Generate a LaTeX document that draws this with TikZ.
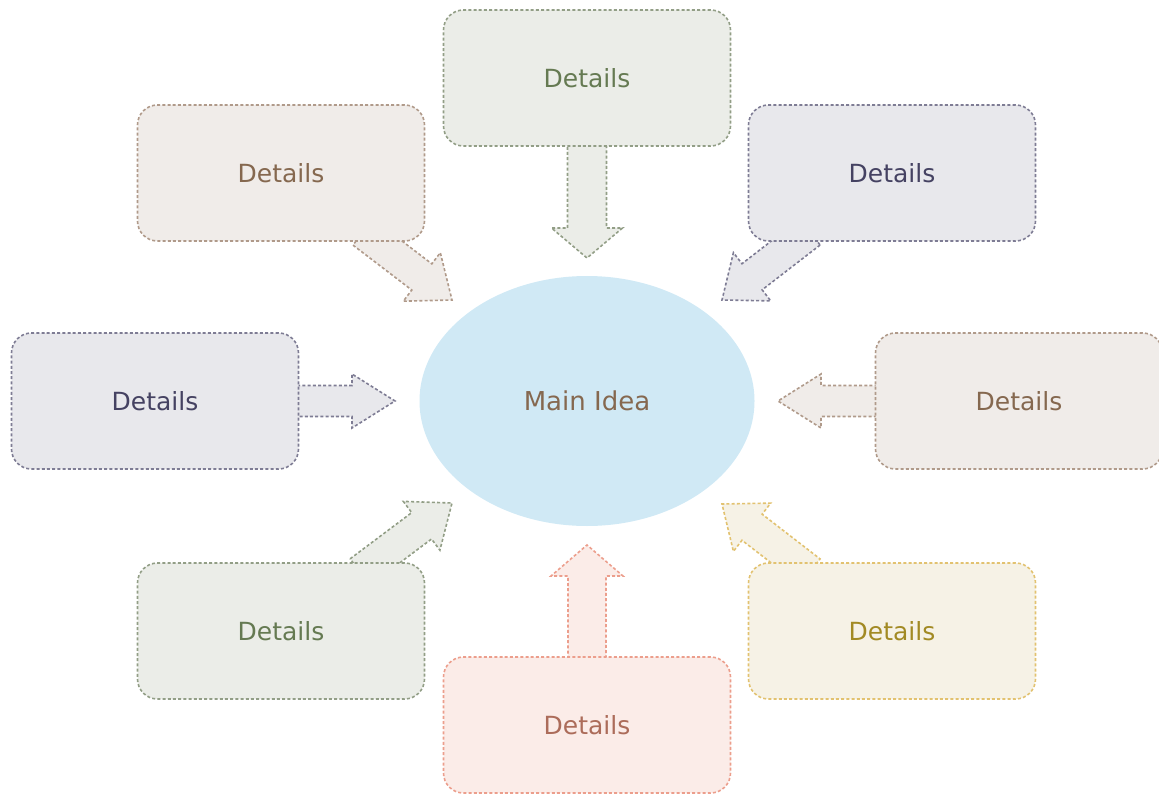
\documentclass[tikz,border=0pt]{standalone}
\usepackage{fontspec}
\setmainfont{DejaVu Sans}
\usetikzlibrary{calc,shapes.geometric}
\definecolor{gfill}{HTML}{EBEDE8}\definecolor{gline}{HTML}{929E86}\definecolor{gtext}{HTML}{657A52}
\definecolor{bfill}{HTML}{F0ECE9}\definecolor{bline}{HTML}{B09A8A}\definecolor{btext}{HTML}{85684F}
\definecolor{lfill}{HTML}{E8E8EC}\definecolor{lline}{HTML}{7E7C94}\definecolor{ltext}{HTML}{454262}
\definecolor{pfill}{HTML}{FBECE8}\definecolor{pline}{HTML}{EC9E8C}\definecolor{ptext}{HTML}{AC6C5A}
\definecolor{yfill}{HTML}{F6F2E6}\definecolor{yline}{HTML}{E2C270}\definecolor{ytext}{HTML}{A28A24}
\definecolor{efill}{HTML}{D0E9F5}
\tikzset{
  dots/.style={line width=1.6pt, dash pattern=on 3pt off 2.2pt},
  detbox/.style={dots, rounded corners=20pt, minimum width=287pt, minimum height=136pt, inner sep=0pt, font=\fontsize{25}{29}\selectfont},
  gbox/.style={detbox, draw=gline, fill=gfill, text=gtext},
  bbox/.style={detbox, draw=bline, fill=bfill, text=btext},
  lbox/.style={detbox, draw=lline, fill=lfill, text=ltext},
  pbox/.style={detbox, draw=pline, fill=pfill, text=ptext},
  ybox/.style={detbox, draw=yline, fill=yfill, text=ytext},
  garr/.style={dots, draw=gline, fill=gfill},
  barr/.style={dots, draw=bline, fill=bfill},
  larr/.style={dots, draw=lline, fill=lfill},
  parr/.style={dots, draw=pline, fill=pfill},
  yarr/.style={dots, draw=yline, fill=yfill},
}
% #1 style, #2 start, #3 tip, #4 half shaft, #5 half head, #6 head length
\newcommand\blockarr[6]{%
  \coordinate (hb) at ($(#3)!#6!(#2)$);
  \draw[#1] ($(#2)!#4!90:(#3)$) -- ($(hb)!#4!90:(#3)$) -- ($(hb)!#5!90:(#3)$) -- (#3)
    -- ($(hb)!#5!-90:(#3)$) -- ($(hb)!#4!-90:(#3)$) -- ($(#2)!#4!-90:(#3)$) -- cycle;}
\begin{document}
\begin{tikzpicture}[x=1pt,y=-1pt]
\useasboundingbox (0,0) rectangle (1159,794);
% arrow end points
\coordinate (s1) at (587,140); \coordinate (t1) at (587,258);
\coordinate (s2) at (363,232); \coordinate (t2) at (452,300);
\coordinate (s3) at (810,232); \coordinate (t3) at (722,300);
\coordinate (s4) at (292,401); \coordinate (t4) at (395,401);
\coordinate (s5) at (882,401); \coordinate (t5) at (778,401);
\coordinate (s6) at (360,572); \coordinate (t6) at (452,503);
\coordinate (s7) at (587,664); \coordinate (t7) at (587,545);
\coordinate (s8) at (810,572); \coordinate (t8) at (722,504);
% arrows
\blockarr{garr}{s1}{t1}{19.5pt}{35.5pt}{30pt}
\blockarr{barr}{s2}{t2}{16.5pt}{30.5pt}{38pt}
\blockarr{larr}{s3}{t3}{16.5pt}{30.5pt}{38pt}
\blockarr{larr}{s4}{t4}{15.5pt}{27pt}{43pt}
\blockarr{barr}{s5}{t5}{15.5pt}{27pt}{43pt}
\blockarr{garr}{s6}{t6}{16.5pt}{30.5pt}{38pt}
\blockarr{parr}{s7}{t7}{19pt}{36pt}{31pt}
\blockarr{yarr}{s8}{t8}{16.5pt}{30.5pt}{38pt}
% main idea
\node[ellipse, fill=efill, minimum width=335pt, minimum height=250pt, inner sep=0pt, text=btext, font=\fontsize{26}{30}\selectfont] (main) at (587,401) {Main Idea};
% boxes
\node[gbox] (b1) at (587,78) {Details};
\node[bbox] (b2) at (281,173) {Details};
\node[lbox] (b3) at (892,173) {Details};
\node[lbox] (b4) at (155,401) {Details};
\node[bbox] (b5) at (1019,401) {Details};
\node[gbox] (b6) at (281,631) {Details};
\node[pbox] (b7) at (587,725) {Details};
\node[ybox] (b8) at (892,631) {Details};
\end{tikzpicture}
\end{document}
